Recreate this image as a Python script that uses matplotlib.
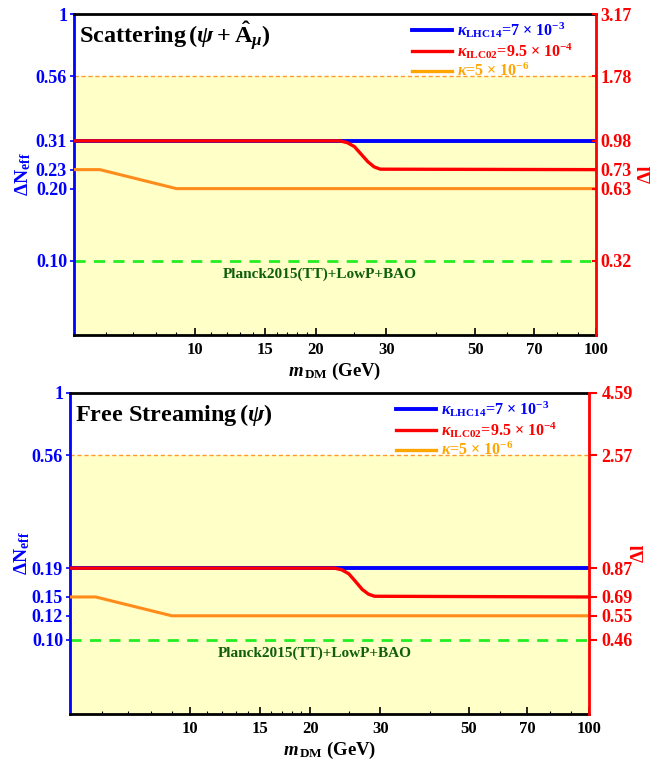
import matplotlib
matplotlib.use("Agg")
import matplotlib.pyplot as plt
from matplotlib.lines import Line2D
from matplotlib.ticker import FixedLocator, NullFormatter

plt.rcParams['font.family'] = ['Liberation Serif', 'DejaVu Serif']
plt.rcParams['font.weight'] = 'bold'
plt.rcParams['axes.labelweight'] = 'bold'
plt.rcParams['mathtext.fontset'] = 'custom'
plt.rcParams['mathtext.rm'] = 'Liberation Serif:bold'
plt.rcParams['mathtext.bf'] = 'Liberation Serif:bold'
plt.rcParams['mathtext.it'] = 'Liberation Serif:italic:bold'
plt.rcParams['mathtext.fallback'] = 'stix'

# dark matter mass (GeV)
mass_blue = [5, 100]
mass_red = [5, 23, 24, 25, 26, 27, 28, 29, 100]
mass_orange = [5, 5.8, 9.0, 100]

# Delta N_eff, scattering panel
scat_blue = [0.306, 0.306]
scat_red = [0.306, 0.306, 0.301, 0.290, 0.270, 0.252, 0.240, 0.235, 0.234]
scat_orange = [0.234, 0.234, 0.196, 0.196]

# Delta N_eff, free streaming panel
free_blue = [0.195, 0.195]
free_red = [0.195, 0.195, 0.192, 0.185, 0.172, 0.160, 0.153, 0.150, 0.149]
free_orange = [0.149, 0.149, 0.125, 0.125]

planck_limit = 0.10
upper_limit = 0.56

scat_ticks = [0.10, 0.196, 0.234, 0.306, 0.56, 1]
scat_left_labels = ["0.10", "0.20", "0.23", "0.31", "0.56", "1"]
scat_right_labels = ["0.32", "0.63", "0.73", "0.98", "1.78", "3.17"]

free_ticks = [0.10, 0.125, 0.149, 0.195, 0.56, 1]
free_left_labels = ["0.10", "0.12", "0.15", "0.19", "0.56", "1"]
free_right_labels = ["0.46", "0.55", "0.69", "0.87", "2.57", "4.59"]

x_major = [10, 15, 20, 30, 50, 70, 100]
x_minor = [6, 7, 8, 9, 11, 12, 13, 14, 16, 17, 18, 19, 25, 40, 60, 80, 90]

legend_labels = [r"$\kappa_{\mathrm{LHC14}}$=7 $\times$ 10$^{-3}$",
                 r"$\kappa_{\mathrm{ILC02}}$=9.5 $\times$ 10$^{-4}$",
                 r"$\kappa$=5 $\times$ 10$^{-6}$"]

BLUE = "#0000ff"
RED = "#ff0000"
ORANGE = "#ff8c1a"
LEG_ORANGE = "#ffa500"
YELLOW = "#ffffc8"


def panel(rect, blue, red, orange, ticks, left_labels, right_labels, title,
          legend_xy, right_dir, right_len, dl_y, dn_xy):
    ax = fig.add_axes(rect)
    ax.set_xscale('log')
    ax.set_yscale('log')
    ax.set_xlim(5, 100)
    ax.set_ylim(0.05, 1)

    ax.axhspan(0.05, upper_limit, color=YELLOW, zorder=0, lw=0)
    ax.axhline(upper_limit, color="#ff9a30", lw=1, ls=(0, (3, 2)), zorder=1)
    ax.axhline(planck_limit, color="#22ee22", lw=2, ls=(0, (4, 3)), zorder=1)
    ax.text(20.5, planck_limit * 0.94, "Planck2015(TT)+LowP+BAO", color="#0d5e0d",
            fontsize=11, ha='center', va='top', fontweight='bold')

    ax.plot(mass_blue, blue, color=BLUE, lw=2.8, zorder=3)
    ax.plot(mass_red, red, color=RED, lw=2.4, zorder=4)
    ax.plot(mass_orange, orange, color=ORANGE, lw=2.2, zorder=3)

    ax.xaxis.set_major_locator(FixedLocator(x_major))
    ax.xaxis.set_minor_locator(FixedLocator(x_minor))
    ax.set_xticklabels([str(v) for v in x_major])
    ax.xaxis.set_minor_formatter(NullFormatter())
    ax.tick_params(axis='x', which='major', direction='in', length=5, width=1.2,
                   labelsize=12, pad=5)
    ax.tick_params(axis='x', which='minor', direction='in', length=2.5, width=0.8)

    ax.yaxis.set_major_locator(FixedLocator(ticks))
    ax.yaxis.set_minor_locator(FixedLocator([]))
    ax.set_yticklabels(left_labels)
    ax.tick_params(axis='y', which='major', direction='out', length=3, width=1.2,
                   colors=BLUE, labelsize=13, pad=2)

    ax.spines['left'].set_color(BLUE)
    ax.spines['left'].set_linewidth(2)
    ax.spines['bottom'].set_linewidth(2)
    ax.spines['top'].set_linewidth(2)
    ax.spines['right'].set_visible(False)

    ax.set_xlabel(r"$m_{\,\mathrm{DM}}$ (GeV)", fontsize=13.5, labelpad=2)
    ax.yaxis.set_label_coords(*dn_xy)
    ax.set_ylabel(r"$\mathrm{\Delta N_{eff}}$", color=BLUE, fontsize=14)

    ax2 = ax.twinx()
    ax2.set_yscale('log')
    ax2.set_ylim(0.05, 1)
    ax2.yaxis.set_major_locator(FixedLocator(ticks))
    ax2.yaxis.set_minor_locator(FixedLocator([]))
    ax2.set_yticklabels(right_labels)
    ax2.tick_params(axis='y', which='major', direction=right_dir, length=right_len,
                    width=1.5, colors=RED, labelsize=13, pad=3)
    for s in ['left', 'top', 'bottom']:
        ax2.spines[s].set_visible(False)
    ax2.spines['right'].set_color(RED)
    ax2.spines['right'].set_linewidth(2)
    ax2.yaxis.set_label_coords(1.08, dl_y)
    ax2.set_ylabel(r"$\mathrm{\Delta l}$", color=RED, fontsize=14, rotation=90)

    ax.text(0.01, 0.93, title, transform=ax.transAxes, fontsize=17.5,
            ha='left', va='center', fontweight='bold')

    handles = [Line2D([], [], color=BLUE, lw=2.8),
               Line2D([], [], color=RED, lw=2.4),
               Line2D([], [], color=LEG_ORANGE, lw=2.4)]
    leg = ax.legend(handles, legend_labels, loc='upper left', bbox_to_anchor=legend_xy,
                    frameon=False, fontsize=11.5, handlelength=2.5, handletextpad=0.3,
                    labelspacing=0.1, borderpad=0, borderaxespad=0)
    for t, c in zip(leg.get_texts(), [BLUE, RED, LEG_ORANGE]):
        t.set_color(c)
    return ax


fig = plt.figure(figsize=(6.54, 7.61), dpi=100)

panel([0.1131, 0.5598, 0.7982, 0.4218], scat_blue, scat_red, scat_orange,
      scat_ticks, scat_left_labels, scat_right_labels,
      r"Scattering$\,(\psi+\hat{\mathrm{A}}_{\mu})$",
      (0.648, 0.98), 'in', 3, 0.51, (-0.079, 0.545))
panel([0.1070, 0.0618, 0.7936, 0.4218], free_blue, free_red, free_orange,
      free_ticks, free_left_labels, free_right_labels,
      r"Free Streaming$\,(\psi)$",
      (0.628, 0.98), 'out', 6, 0.47, (-0.073, 0.495))

fig.savefig("out.png", dpi=100)
